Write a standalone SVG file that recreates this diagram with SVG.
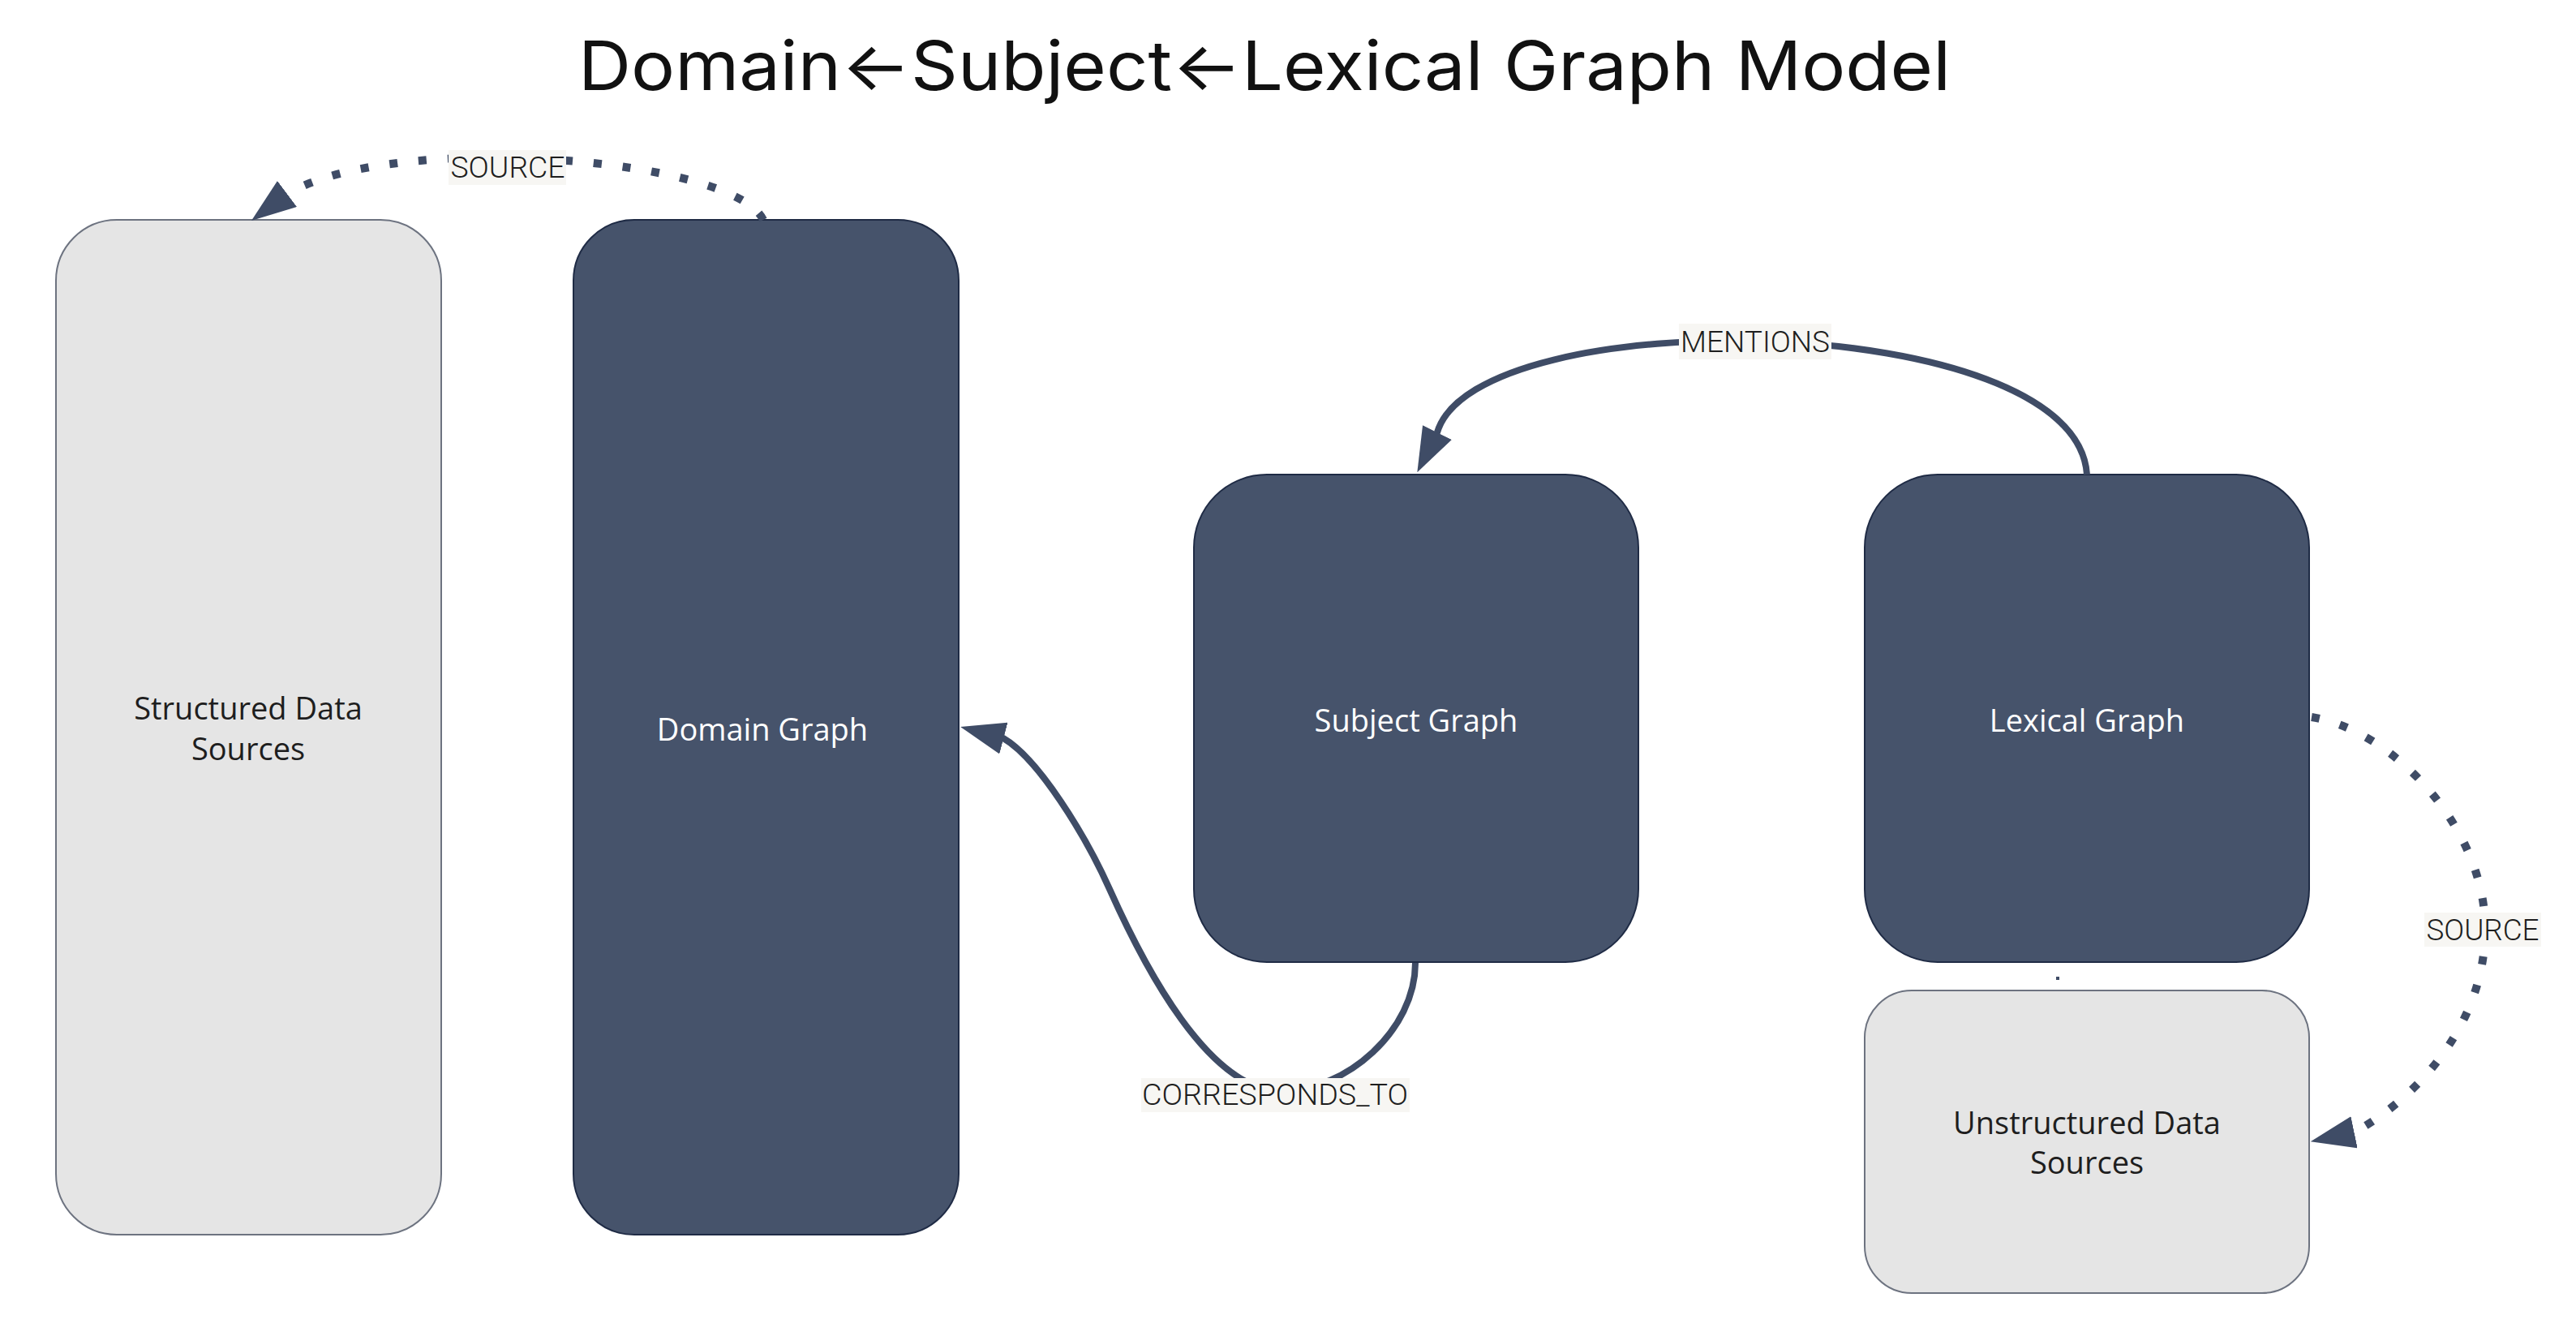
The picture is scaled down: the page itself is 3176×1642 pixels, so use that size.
<svg xmlns="http://www.w3.org/2000/svg" width="3176" height="1642" viewBox="0 0 3176 1642">
<style>
.bg{fill:#ffffff}
.title{font-family:Inter,"Open Sans","DejaVu Sans",sans-serif;font-size:84px;fill:#111111}
.dark{fill:#46536b;stroke:#1f2b45;stroke-width:2}
.light{fill:#e5e5e5;stroke:#6d7380;stroke-width:2}
.nl{font-family:"Open Sans","Noto Sans",sans-serif;font-size:38px;text-anchor:middle}
.nl-w{fill:#ffffff}
.nl-d{fill:#1e1e1e}
.edge{fill:none;stroke:#3f4c66;stroke-width:8}
.dot{stroke-width:10;stroke-dasharray:10 26}
.lbg{fill:#f7f6f3}
.el{font-family:Roboto,"Liberation Sans",sans-serif;font-size:36px;font-weight:300;fill:#1e1e1e;text-anchor:middle}
</style>
<defs>
<marker id="arrow" markerUnits="userSpaceOnUse" viewBox="0 0 55 40" markerWidth="55" markerHeight="40" refX="20" refY="20" orient="auto">
<path d="M0,0 L55,20 L0,40 Z" fill="#3f4c66"/>
</marker>
</defs>
<rect class="bg" x="0" y="0" width="3176" height="1642"/>
<text class="title" x="713" y="111" textLength="1692" lengthAdjust="spacingAndGlyphs">Domain←Subject←Lexical Graph Model</text>

<g id="structured">
<rect class="light" x="69" y="271" width="475" height="1251" rx="75" ry="75"/>
<text class="nl nl-d" x="306" y="887">Structured Data</text>
<text class="nl nl-d" x="306" y="937">Sources</text>
</g>
<g id="domain">
<rect class="dark" x="707" y="271" width="475" height="1251" rx="75" ry="75"/>
<text class="nl nl-w" x="940" y="913">Domain Graph</text>
</g>
<g id="subject">
<rect class="dark" x="1472" y="585" width="548" height="601" rx="90" ry="90"/>
<text class="nl nl-w" x="1746" y="902">Subject Graph</text>
</g>
<g id="lexical">
<rect class="dark" x="2299" y="585" width="548" height="601" rx="90" ry="90"/>
<text class="nl nl-w" x="2573" y="902">Lexical Graph</text>
</g>
<g id="unstructured">
<rect class="light" x="2299" y="1221" width="548" height="373" rx="58" ry="58"/>
<text class="nl nl-d" x="2573" y="1398">Unstructured Data</text>
<text class="nl nl-d" x="2573" y="1447">Sources</text>
</g>

<g id="connectors">
<path class="edge dot" d="M941,271 C905,195 490,160 354,239 L338,251" marker-end="url(#arrow)"/>
<path class="edge" d="M2573,585 C2560,380 1820,370 1772,533 L1763,551" marker-end="url(#arrow)"/>
<path class="edge" d="M1745,1187 C1745,1270 1660,1345 1580,1345 C1490,1345 1410,1190 1368,1096 C1338,1029 1280,935 1237,910 L1218,905" marker-end="url(#arrow)"/>
<path class="edge dot" d="M2850,884 C2950,900 3064,1020 3064,1145 C3064,1270 2970,1360 2902,1396 L2883,1400" marker-end="url(#arrow)"/>
<rect x="2535" y="1204" width="4" height="4" fill="#3f4c66"/>
<g id="edge-labels">
<rect class="lbg" x="553" y="185" width="145" height="43"/>
<text class="el" x="626" y="219" textLength="141" lengthAdjust="spacingAndGlyphs">SOURCE</text>
<rect class="lbg" x="2070" y="399" width="188" height="44"/>
<text class="el" x="2164" y="434" textLength="184" lengthAdjust="spacingAndGlyphs">MENTIONS</text>
<rect class="lbg" x="1407" y="1329" width="331" height="42"/>
<text class="el" x="1572" y="1362" textLength="328" lengthAdjust="spacingAndGlyphs">CORRESPONDS_TO</text>
<rect class="lbg" x="2989" y="1125" width="144" height="42"/>
<text class="el" x="3061" y="1159" textLength="139" lengthAdjust="spacingAndGlyphs">SOURCE</text>
</g>
</g>
</svg>
